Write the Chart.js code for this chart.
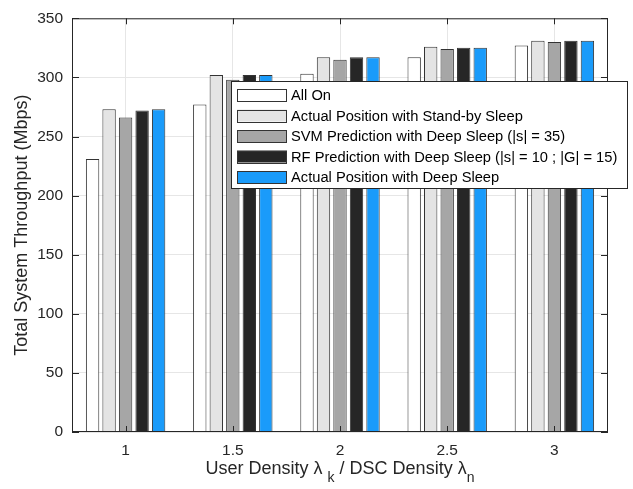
<!DOCTYPE html>
<html>
<head>
<meta charset="utf-8">
<script src="https://cdn.jsdelivr.net/npm/chart.js@4"></script>
<style>
  html, body { margin: 0; padding: 0; background: #fff; }
  #wrap { width: 633px; height: 489px; }
</style>
</head>
<body>
<div id="wrap"><canvas id="chart" width="633" height="489"></canvas></div>
<script>
const densities = ['1', '1.5', '2', '2.5', '3'];

const allOn       = [231, 277, 303, 317, 327];
const standbySlp  = [273, 302, 317, 326, 331];
const svmDeep     = [266, 298, 315, 324, 330];
const rfDeep      = [272, 302, 317, 325, 331];
const actualDeep  = [273, 302, 317, 325, 331];

const seriesNames = [
  'All On',
  'Actual Position with Stand-by Sleep',
  'SVM Prediction with Deep Sleep (|s| = 35)',
  'RF Prediction with Deep Sleep (|s| = 10 ; |G| = 15)',
  'Actual Position with Deep Sleep'
];
const seriesColors = ['#ffffff', '#e4e4e4', '#a6a6a6', '#262626', '#1a9bfa'];
const yTicks = [0, 50, 100, 150, 200, 250, 300, 350];

const FONT = 'Liberation Sans, Arial, sans-serif';
const axisColor = '#262626';

// box round the plot, inward ticks, x title with subscripts, legend inside the plot
const matlabStyle = {
  id: 'matlabStyle',
  afterDraw(chart) {
    const ctx = chart.ctx;
    const a = chart.chartArea;
    const xs = chart.scales.x, ys = chart.scales.y;
    ctx.save();
    ctx.strokeStyle = axisColor;
    ctx.lineWidth = 1;
    ctx.strokeRect(a.left + 0.5, a.top + 0.5, a.right - a.left - 1, a.bottom - a.top - 1);
    ctx.beginPath();
    densities.forEach((d, i) => {
      const px = Math.round(xs.getPixelForValue(i)) + 0.5;
      ctx.moveTo(px, a.bottom); ctx.lineTo(px, a.bottom - 6);
      ctx.moveTo(px, a.top); ctx.lineTo(px, a.top + 6);
    });
    yTicks.forEach(v => {
      const py = Math.round(ys.getPixelForValue(v)) + 0.5;
      ctx.moveTo(a.left, py); ctx.lineTo(a.left + 7, py);
      ctx.moveTo(a.right, py); ctx.lineTo(a.right - 7, py);
    });
    ctx.stroke();

    // x axis title
    ctx.fillStyle = '#262626';
    ctx.textBaseline = 'alphabetic';
    const parts = [
      ['User Density \u03bb ', 18, 0],
      ['k', 14, 8],
      [' / DSC Density \u03bb', 18, 0],
      ['n', 14, 8]
    ];
    let total = 0;
    parts.forEach(p => { ctx.font = p[1] + 'px ' + FONT; total += ctx.measureText(p[0]).width; });
    let x = (a.left + a.right) / 2 - total / 2;
    const baseY = 474;
    parts.forEach(p => {
      ctx.font = p[1] + 'px ' + FONT;
      ctx.fillText(p[0], x, baseY + p[2]);
      x += ctx.measureText(p[0]).width;
    });

    // legend
    const lx = 231, ly = 81, lw = 397, lh = 108;
    ctx.fillStyle = '#ffffff';
    ctx.fillRect(lx, ly, lw, lh);
    ctx.strokeStyle = '#262626';
    ctx.strokeRect(lx + 0.5, ly + 0.5, lw - 1, lh - 1);
    ctx.font = '14.7px ' + FONT;
    ctx.textBaseline = 'middle';
    chart.data.datasets.forEach((ds, i) => {
      const cy = 95 + i * 20.5;
      ctx.fillStyle = ds.backgroundColor;
      ctx.fillRect(237, cy - 6, 50, 12);
      ctx.strokeStyle = '#333333';
      ctx.strokeRect(237.5, Math.round(cy - 6) + 0.5, 49, 12);
      ctx.fillStyle = '#000000';
      ctx.fillText(ds.label, 291, cy + 1);
    });
    ctx.restore();
  }
};

new Chart(document.getElementById('chart'), {
  type: 'bar',
  data: {
    labels: densities,
    datasets: [allOn, standbySlp, svmDeep, rfDeep, actualDeep].map((vals, i) => ({
      label: seriesNames[i],
      data: vals,
      backgroundColor: seriesColors[i],
      borderColor: '#333333',
      borderWidth: 1,
      categoryPercentage: 0.77,
      barPercentage: 0.81
    }))
  },
  options: {
    responsive: false,
    animation: false,
    layout: { padding: { top: 12, right: 25, left: 0, bottom: 0 } },
    plugins: { legend: { display: false }, tooltip: { enabled: false } },
    scales: {
      x: {
        offset: true,
        grid: { offset: false, color: '#e6e6e6', drawTicks: false },
        border: { display: false },
        ticks: { color: '#262626', font: { family: FONT, size: 15.5 }, padding: 9 },
        afterFit(scale) { scale.height = 57; }
      },
      y: {
        min: 0, max: 350,
        grid: { color: '#e6e6e6', drawTicks: false },
        border: { display: false },
        afterBuildTicks(scale) { scale.ticks = yTicks.map(v => ({ value: v })); },
        ticks: { color: '#262626', font: { family: FONT, size: 15.5 }, padding: 9 },
        title: {
          display: true,
          text: 'Total System Throughput (Mbps)',
          color: '#262626',
          font: { family: FONT, size: 18 },
          padding: { top: 11, bottom: 0 }
        },
        afterFit(scale) { scale.width = 72; }
      }
    }
  },
  plugins: [matlabStyle]
});
</script>
</body>
</html>
